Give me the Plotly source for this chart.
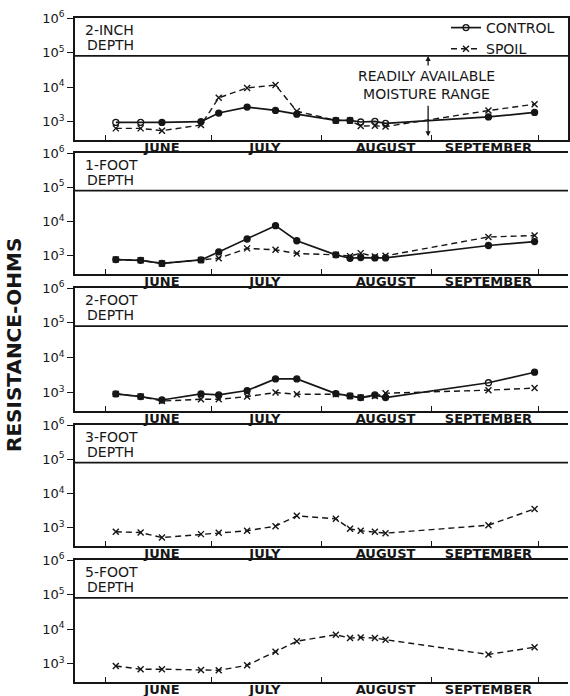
import math
import plotly.graph_objects as go

# ---------------- data ----------------
dates = ["1955-06-04", "1955-06-11", "1955-06-17", "1955-06-28", "1955-07-03",
         "1955-07-11", "1955-07-19", "1955-07-25", "1955-08-05", "1955-08-09",
         "1955-08-12", "1955-08-16", "1955-08-19", "1955-09-17", "1955-09-30"]

depth_names = ["2-INCH", "1-FOOT", "2-FOOT", "3-FOOT", "5-FOOT"]

control_2in = [950, 950, 950, 1000, 1780, 2650, 2120, 1650, 1090, 1090, 980, 1020, 890, 1370, 1850]
spoil_2in = [640, 640, 550, 800, 4900, 9500, 11500, 2000, 1090, 1090, 750, 760, 720, 2100, 3200]

control_1ft = [780, 740, 600, 760, 1300, 3100, 7600, 2750, 1070, 850, 890, 870, 870, 2000, 2600]
spoil_1ft = [780, 740, 600, 760, 850, 1650, 1500, 1170, 1070, 980, 1200, 955, 1000, 3550, 3900]

control_2ft = [915, 765, 610, 915, 855, 1140, 2450, 2450, 935, 800, 715, 855, 715, 1910, 3830]
spoil_2ft = [915, 765, 570, 640, 640, 765, 1000, 895, 895, 800, 715, 800, 955, 1170, 1340]

spoil_3ft = [765, 730, 520, 655, 715, 820, 1120, 2240, 1830, 935, 820, 765, 700, 1190, 3570]

spoil_5ft = [860, 690, 690, 660, 645, 895, 2200, 4450, 6900, 5500, 5750, 5500, 4950, 1850, 3000]

control_series = [control_2in, control_1ft, control_2ft, None, None]
spoil_series = [spoil_2in, spoil_1ft, spoil_2ft, spoil_3ft, spoil_5ft]

month_labels = ["JUNE", "JULY", "AUGUST", "SEPTEMBER"]
month_label_dates = ["1955-06-17", "1955-07-16", "1955-08-19", "1955-09-17"]
month_starts = ["1955-06-01", "1955-07-01", "1955-08-01", "1955-09-01", "1955-10-01"]

ytick_vals = [1e3, 1e4, 1e5, 1e6]
ytick_text = ["10<sup>3</sup>", "10<sup>4</sup>", "10<sup>5</sup>", "10<sup>6</sup>"]

moisture_limit = 8e4          # upper limit of readily available moisture range
arrow_date = "1955-08-31"

x_range = ["1955-05-23 12:00", "1955-10-09 10:00"]
y_range_log = [2.47, 6.0]

# ---------------- style / layout ----------------
INK = "#161616"
FONT = "DejaVu Sans"
W, H = 570, 696
L, R = 75, 2
PW = W - L - R
panels_px = [(18, 140), (153, 274), (288, 411), (425, 546), (560, 682)]
open_points = {0: [0, 1, 10, 11, 12], 2: [13]}   # control points drawn open

fig = go.Figure()
layout = dict(
    width=W, height=H,
    margin=dict(l=L, r=R, t=0, b=0, autoexpand=False),
    paper_bgcolor="white", plot_bgcolor="white",
    font=dict(family=FONT, color=INK),
    showlegend=True,
    legend=dict(x=(446 - L) / PW, y=1 - 12 / H, xanchor="left", yanchor="top",
                font=dict(family=FONT, size=14, color=INK), bgcolor="rgba(0,0,0,0)",
                itemwidth=30, tracegroupgap=0),
)

annotations = []
shapes = []
for i in range(5):
    n = "" if i == 0 else str(i + 1)
    xa, ya = "x" + n, "y" + n
    top, bot = panels_px[i]
    layout["xaxis" + n] = dict(
        domain=[0, 1], anchor=ya, type="date", range=x_range,
        showline=True, linecolor=INK, linewidth=1.6, mirror=True,
        showgrid=False, zeroline=False,
        tickmode="array", tickvals=month_label_dates, ticktext=month_labels,
        ticks="", ticklen=0, ticklabelstandoff=-5,
        tickfont=dict(family=FONT, size=13, color=INK, weight="bold"),
        minor=dict(tickmode="array", tickvals=month_starts, ticks="inside",
                   ticklen=5, tickwidth=1.3, tickcolor=INK, showgrid=False),
        automargin=False,
    )
    layout["yaxis" + n] = dict(
        domain=[1 - bot / H, 1 - top / H], anchor=xa, type="log", range=y_range_log,
        showline=True, linecolor=INK, linewidth=1.6, mirror=(i == 0),
        showgrid=False, zeroline=False,
        tickmode="array", tickvals=ytick_vals, ticktext=ytick_text,
        ticks="outside", ticklen=6, tickwidth=1.3, tickcolor=INK,
        tickfont=dict(family=FONT, size=13, color=INK),
        automargin=False,
    )

    sp = spoil_series[i]
    fig.add_trace(go.Scatter(
        x=dates, y=sp, mode="lines+markers", name="SPOIL",
        xaxis=xa, yaxis=ya, showlegend=(i == 0), legendrank=2,
        line=dict(color=INK, width=1.4, dash="6px,4px"),
        marker=dict(symbol="x-thin", size=6, color=INK, line=dict(color=INK, width=1.4)),
    ))
    cs = control_series[i]
    if cs is not None:
        syms = ["circle-open" if k in open_points.get(i, []) else "circle" for k in range(len(cs))]
        fig.add_trace(go.Scatter(
            x=dates, y=cs, mode="lines+markers", name="CONTROL",
            xaxis=xa, yaxis=ya, showlegend=(i == 0), legendrank=1,
            line=dict(color=INK, width=1.7),
            marker=dict(symbol=syms, size=6, color=INK, line=dict(color=INK, width=1.3)),
        ))

    # moisture-range boundary line
    shapes.append(dict(type="line", xref=xa + " domain", x0=0, x1=1,
                       yref=ya, y0=moisture_limit, y1=moisture_limit,
                       line=dict(color=INK, width=1.7)))

    # depth label
    annotations.append(dict(text=depth_names[i], xref=xa + " domain", yref=ya + " domain",
                            x=0.016, y=1 - 12 / (bot - top), xanchor="left", yanchor="middle",
                            showarrow=False, font=dict(family=FONT, size=14, color=INK)))
    annotations.append(dict(text="DEPTH", xref=xa + " domain", yref=ya + " domain",
                            x=0.02, y=1 - 27 / (bot - top), xanchor="left", yanchor="middle",
                            showarrow=False, font=dict(family=FONT, size=14, color=INK)))

# moisture range annotation (panel 1)
limit_frac = (math.log10(moisture_limit) - y_range_log[0]) / (y_range_log[1] - y_range_log[0])
annotations += [
    dict(text="READILY AVAILABLE<br>MOISTURE RANGE", xref="paper", yref="paper",
         x=(426 - L) / PW, y=1 - 84.5 / H, xanchor="center", yanchor="middle",
         align="center", showarrow=False, font=dict(family=FONT, size=14, color=INK)),
    dict(text="", x=arrow_date, xref="x", yref="y domain", y=limit_frac,
         showarrow=True, arrowhead=2, arrowsize=0.8, arrowwidth=1.3, arrowcolor=INK,
         ax=0, ay=11, standoff=0),
    dict(text="", x=arrow_date, xref="x", yref="y domain", y=0.03,
         showarrow=True, arrowhead=2, arrowsize=0.8, arrowwidth=1.3, arrowcolor=INK,
         ax=0, ay=-32, standoff=0),
    dict(text="RESISTANCE-OHMS", xref="paper", yref="paper", x=(14 - L) / PW,
         y=1 - 345 / H, xanchor="center", yanchor="middle", textangle=-90, showarrow=False,
         font=dict(family=FONT, size=20, color=INK, weight="bold")),
]

layout["annotations"] = annotations
layout["shapes"] = shapes
fig.update_layout(**layout)

fig.write_html("out.html")
